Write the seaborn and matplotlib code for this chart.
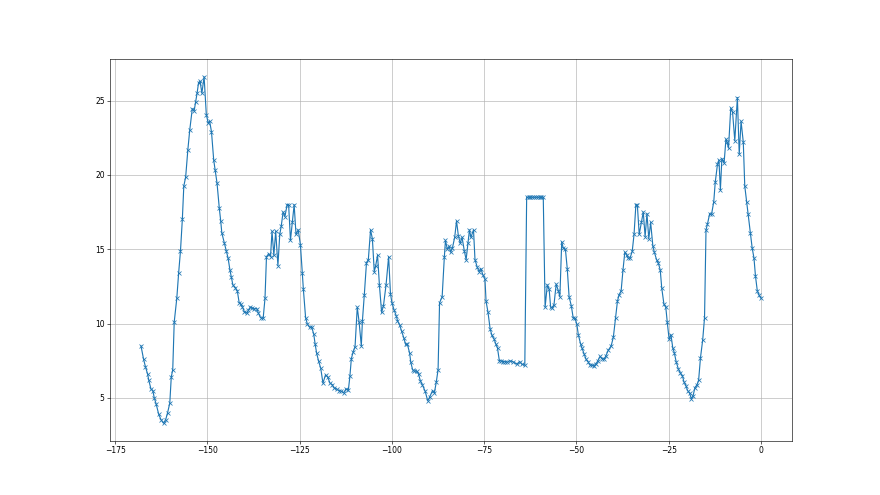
import numpy as np
import matplotlib
matplotlib.use('Agg')
import matplotlib.pyplot as plt
import seaborn as sns

# x positions (relative time) and values
xs = [-168.0, -167.3, -166.8, -166.2, -165.9, -165.3, -164.8, -164.4, -163.9, -163.2,
      -162.6, -161.9, -161.3, -160.8, -160.2, -159.8, -159.4, -159.0, -158.3, -157.8,
      -157.3, -156.8, -156.4, -155.9, -155.3, -154.8, -154.1, -153.6, -153.2, -152.8,
      -152.4, -152.0, -151.5, -150.9, -150.3, -149.8, -149.4, -148.9, -148.3, -147.9,
      -147.4, -146.8, -146.4, -146.1, -145.4, -144.9, -144.4, -143.9, -143.5, -143.1,
      -142.4, -141.9, -141.4, -140.9, -140.5, -140.0, -139.3, -138.9, -138.4, -137.8,
      -137.3, -136.6, -136.2, -135.6, -134.9, -134.4, -134.0, -133.4, -132.9, -132.5,
      -132.0, -131.5, -130.9, -130.4, -130.0, -129.5, -129.0, -128.4, -128.0, -127.5,
      -127.0, -126.5, -126.0, -125.4, -124.8, -124.3, -124.0, -123.4, -122.9, -122.3,
      -121.8, -121.2, -120.8, -120.4, -119.9, -119.3, -118.7, -118.0, -117.4, -116.8,
      -116.2, -115.6, -115.0, -114.4, -113.7, -113.0, -112.5, -111.8, -111.4, -111.0,
      -110.5, -110.0, -109.4, -108.9, -108.3, -108.0, -107.5, -106.9, -106.4, -105.8,
      -105.3, -104.8, -104.4, -103.9, -103.4, -102.8, -102.3, -101.6, -100.9, -100.4,
      -100.0, -99.4, -98.8, -98.5, -97.9, -97.4, -96.8, -96.3, -95.8, -95.2,
      -94.9, -94.4, -93.9, -93.3, -92.8, -92.3, -91.8, -91.0, -90.3, -89.8,
      -89.0, -88.5, -88.0, -87.5, -87.1, -86.4, -85.8, -85.5, -85.0, -84.5,
      -84.1, -83.6, -83.0, -82.5, -82.0, -81.5, -81.0, -80.4, -79.9, -79.4,
      -79.0, -78.6, -77.9, -77.5, -76.9, -76.4, -75.9, -75.4, -74.8, -74.5,
      -74.0, -73.4, -72.9, -72.3, -71.9, -71.4, -70.9, -70.5, -70.0, -69.4,
      -68.7, -68.1, -67.3, -66.2, -65.4, -64.8, -64.0, -63.5, -63.0, -62.5,
      -62.0, -61.5, -61.0, -60.5, -60.0, -59.5, -59.0, -58.5, -57.9, -57.4,
      -57.0, -56.6, -56.1, -55.5, -54.9, -54.5, -54.0, -53.6, -53.0, -52.5,
      -52.0, -51.4, -50.9, -50.4, -49.9, -49.5, -48.9, -48.5, -47.9, -47.4,
      -46.9, -46.3, -45.8, -45.3, -44.7, -44.2, -43.6, -43.1, -42.5, -42.0,
      -41.4, -40.6, -40.0, -39.4, -38.9, -38.5, -37.9, -37.4, -36.9, -36.4,
      -36.0, -35.5, -34.9, -34.4, -33.9, -33.5, -33.0, -32.4, -31.9, -31.4,
      -30.9, -30.4, -29.9, -29.3, -28.9, -28.3, -27.8, -27.3, -26.9, -26.3,
      -25.8, -25.4, -24.9, -24.4, -23.9, -23.5, -23.0, -22.4, -21.9, -21.3,
      -20.9, -20.3, -19.9, -19.3, -18.9, -18.4, -17.9, -17.3, -16.9, -16.4,
      -15.8, -15.3, -14.9, -14.5, -13.9, -13.4, -12.8, -12.4, -11.8, -11.4,
      -11.0, -10.6, -10.0, -9.5, -9.2, -8.8, -8.2, -7.7, -7.1, -6.4,
      -5.9, -5.4, -4.8, -4.4, -3.9, -3.5, -2.9, -2.4, -1.9, -1.5,
      -1.0, -0.5, 0.0]

ys = [8.5, 7.6, 7.1, 6.6, 6.2, 5.6, 5.5, 5.0, 4.6, 3.9,
      3.55, 3.3, 3.55, 4.0, 4.65, 6.4, 6.9, 10.1, 11.7, 13.4,
      14.9, 17.0, 19.25, 19.85, 21.7, 23.0, 24.45, 24.3, 24.9, 25.5,
      26.2, 26.3, 25.5, 26.6, 24.05, 23.5, 23.6, 22.9, 21.0, 20.3,
      19.45, 17.8, 16.9, 16.1, 15.4, 14.9, 14.4, 13.6, 13.1, 12.6,
      12.4, 12.2, 11.4, 11.3, 11.1, 10.8, 10.7, 10.9, 11.1, 11.05,
      11.0, 11.0, 10.7, 10.4, 10.35, 11.7, 14.5, 14.7, 14.5, 16.2,
      14.6, 16.2, 13.9, 16.0, 16.55, 17.5, 17.2, 18.0, 18.0, 15.6,
      16.8, 18.0, 16.0, 16.3, 15.3, 13.4, 12.3, 10.4, 9.95, 9.75,
      9.8, 9.3, 8.6, 8.0, 7.5, 7.0, 6.0, 6.55, 6.4, 6.0,
      5.9, 5.65, 5.6, 5.5, 5.45, 5.35, 5.6, 5.55, 6.45, 7.65,
      8.1, 8.45, 11.1, 10.1, 8.5, 10.2, 11.9, 14.1, 14.3, 16.3,
      15.7, 13.5, 13.9, 14.6, 12.6, 10.75, 11.2, 12.6, 14.5, 12.0,
      11.4, 10.9, 10.5, 10.2, 9.9, 9.5, 9.05, 8.6, 8.6, 8.0,
      7.4, 6.9, 6.8, 6.8, 6.6, 6.15, 5.9, 5.45, 4.8, 5.05,
      5.5, 5.35, 6.05, 6.9, 11.4, 11.8, 14.5, 15.6, 15.0, 15.2,
      14.8, 15.1, 15.8, 16.9, 15.9, 15.4, 15.8, 14.9, 14.3, 15.4,
      16.3, 15.8, 16.3, 14.3, 13.8, 13.5, 13.7, 13.3, 13.0, 11.5,
      10.8, 9.65, 9.2, 8.95, 8.65, 8.35, 7.5, 7.5, 7.45, 7.45,
      7.4, 7.5, 7.45, 7.27, 7.45, 7.27, 7.2, 18.5, 18.5, 18.5,
      18.5, 18.5, 18.5, 18.5, 18.5, 18.5, 18.5, 11.1, 12.6, 12.3,
      11.1, 11.05, 11.25, 12.65, 12.2, 11.8, 15.5, 15.1, 15.0, 13.7,
      11.8, 11.2, 10.4, 10.35, 9.95, 9.25, 8.65, 8.35, 7.95, 7.6,
      7.45, 7.2, 7.2, 7.15, 7.3, 7.5, 7.8, 7.65, 7.6, 7.85,
      8.2, 8.5, 9.1, 10.4, 11.5, 11.9, 12.2, 13.6, 14.8, 14.6,
      14.4, 14.4, 14.85, 16.0, 18.0, 17.95, 16.0, 16.8, 17.5, 15.85,
      17.4, 15.7, 16.8, 15.2, 14.8, 14.3, 14.05, 13.6, 12.4, 11.3,
      11.1, 10.1, 8.95, 9.25, 8.35, 8.05, 7.45, 6.95, 6.7, 6.5,
      6.1, 5.8, 5.5, 5.3, 4.95, 5.15, 5.7, 5.9, 6.2, 7.7,
      8.9, 10.4, 16.3, 16.7, 17.4, 17.35, 18.2, 19.5, 20.7, 21.0,
      19.0, 21.1, 20.8, 22.4, 22.2, 21.8, 24.5, 24.2, 22.3, 25.2,
      21.4, 23.6, 22.2, 19.25, 18.2, 17.4, 16.1, 15.1, 14.4, 13.2,
      12.2, 11.9, 11.7]

fig, ax = plt.subplots(figsize=(16, 9), dpi=55)
sns.lineplot(x=xs, y=ys, ax=ax, marker='x', color='tab:blue',
             markeredgecolor='tab:blue', markeredgewidth=1.0, markersize=6,
             linewidth=1.5, estimator=None, sort=False)
ax.grid(True)
ax.set_axisbelow(True)

plt.savefig('out.png', dpi=55)
